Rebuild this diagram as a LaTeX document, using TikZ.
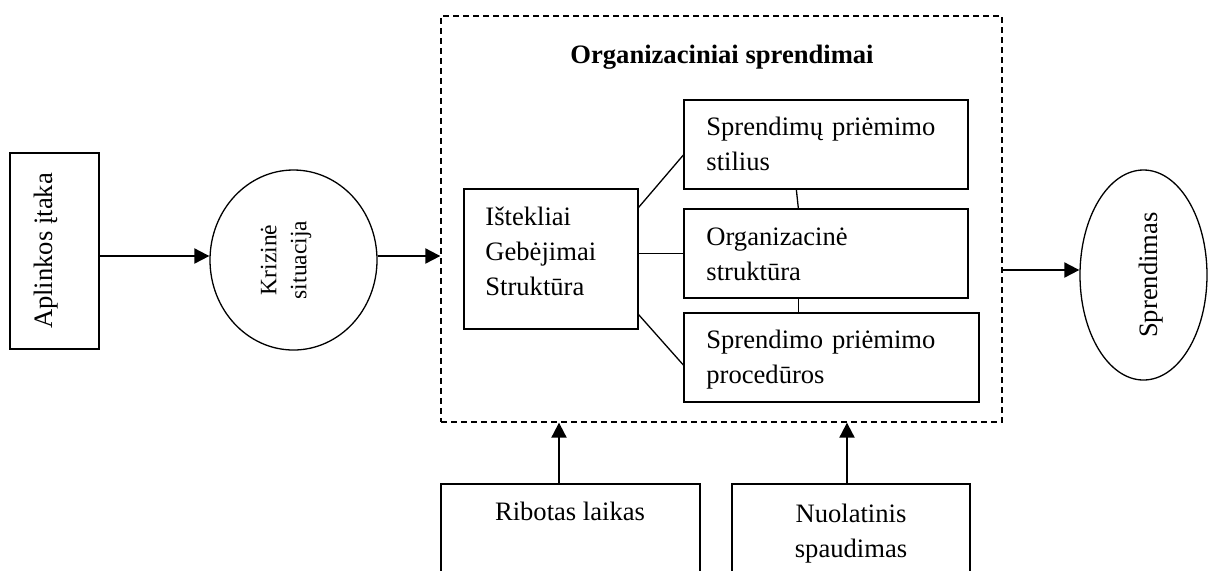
\documentclass[tikz,border=0pt]{standalone}
\usepackage{fontspec}
\setmainfont{Liberation Serif}
\usetikzlibrary{arrows.meta,shapes.geometric,calc}
\begin{document}
\begin{tikzpicture}[x=0.5pt,y=-0.5pt,
  box/.style={draw,line width=0.65pt,rectangle,inner sep=0pt},
  oval/.style={draw,line width=0.65pt,ellipse,inner sep=0pt},
  txt/.style={inner sep=0pt,font=\fontsize{13.3pt}{17.5pt}\selectfont},
  ltxt/.style={txt,text width=135pt,align=left,anchor=base west},
  arr/.style={line width=1pt,-{Triangle[length=7.5pt,width=7.5pt]}},
  link/.style={line width=0.65pt},
]
\useasboundingbox (0,0) rectangle (1216,570);
\clip (0,0) rectangle (1216,570);

% left: environment influence
\node[box,minimum width=44.5pt,minimum height=98pt] (A) at (54.5,251) {};
\node[txt,rotate=90] (At) at (46,251) {Aplinkos įtaka};

% crisis situation
\node[oval,minimum width=83.5pt,minimum height=90pt] (C) at (293.5,260) {};
\node[rotate=90,align=center,inner sep=0pt,font=\fontsize{11.75pt}{15pt}\selectfont] (Ct) at (286,260) {Krizinė\\situacija};

% dashed container
\node[draw,line width=0.65pt,dash pattern=on 3pt off 2pt,inner sep=0pt,minimum width=280.5pt,minimum height=203pt] (D) at (721.5,219) {};
\node[txt,font=\fontsize{13.3pt}{17.5pt}\selectfont\bfseries,anchor=base] (T) at (722,63) {Organizaciniai sprendimai};

% inner boxes
\node[box,minimum width=87pt,minimum height=70pt] (L) at (551,259) {};
\node[ltxt] (Lt) at (485,225) {Ištekliai\\Gebėjimai\\Struktūra};

\node[box,minimum width=142pt,minimum height=44.5pt] (B1) at (826,144.5) {};
\node[ltxt] (B1t) at (706,135) {Sprendimų priėmimo\\stilius};

\node[box,minimum width=142pt,minimum height=44.5pt] (B2) at (826,253.5) {};
\node[ltxt] (B2t) at (706,245) {Organizacinė\\struktūra};

\node[box,minimum width=147.5pt,minimum height=44.5pt] (B3) at (831.5,357.5) {};
\node[ltxt] (B3t) at (706,348) {Sprendimo priėmimo\\procedūros};

% decision
\node[oval,minimum width=63.5pt,minimum height=105pt] (E) at (1143.5,275) {};
\node[txt,rotate=90] (Et) at (1151,275) {Sprendimas};

% bottom boxes (cut off by the page edge)
\node[box,minimum width=129.5pt,minimum height=68pt] (R) at (570.5,552) {};
\node[txt,anchor=base] (Rt) at (570,520) {Ribotas laikas};
\node[box,minimum width=119pt,minimum height=68pt] (N) at (851,552) {};
\node[txt,text width=115pt,align=center,anchor=base] (Nt) at (851,522) {Nuolatinis\\spaudimas};

% links inside
\draw[link] ([yshift=-9.5pt]L.north east) -- ([yshift=-5.25pt]B1.west);
\draw[link] (B2.west -| L.east) -- (B2.west);
\draw[link] ([yshift=7.5pt]L.south east) -- ([yshift=-3.75pt]B3.west);
\draw[link] ([xshift=56.5pt]B1.south west) -- ([xshift=57.5pt]B2.north west);
\draw[link] ([xshift=57.5pt]B2.south west) -- ([xshift=57.5pt]B3.north west);

% arrows
\draw[arr] ([yshift=-2.5pt]A.east) -- ([yshift=-2.5pt]A.east -| C.west);
\draw[arr] ([yshift=2pt]C.east) -- ([yshift=2pt]C.east -| D.west);
\draw[arr] ([yshift=2.5pt]E.west -| D.east) -- ([yshift=2.5pt]E.west);
\draw[arr] ([xshift=-5.75pt]R.north) -- ([xshift=-5.75pt]R.north |- D.south);
\draw[arr] ([xshift=-2pt]N.north) -- ([xshift=-2pt]N.north |- D.south);
\end{tikzpicture}
\end{document}
